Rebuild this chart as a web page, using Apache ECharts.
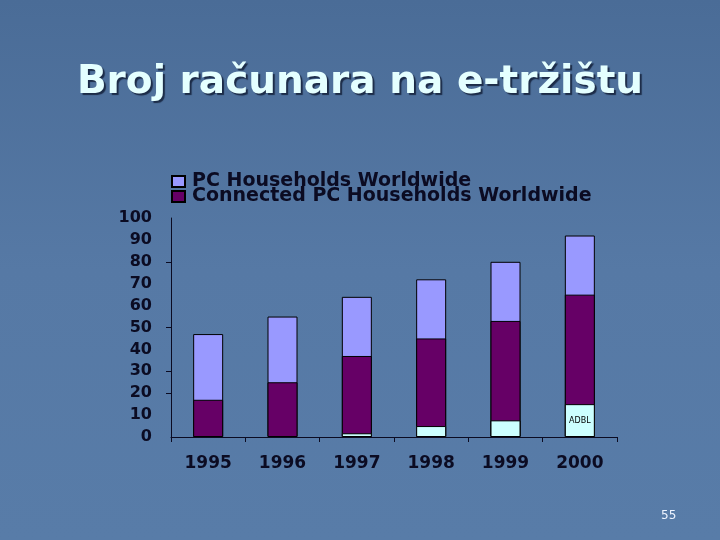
<!DOCTYPE html>
<html>
<head>
<meta charset="utf-8">
<script src="https://cdn.jsdelivr.net/npm/echarts@6/dist/echarts.min.js"></script>
<style>
  html, body { margin: 0; padding: 0; }
  #main { width: 720px; height: 540px; }
</style>
</head>
<body>
<div id="main"></div>
<script>
// godine
var years = ['1995', '1996', '1997', '1998', '1999', '2000'];
// PC households worldwide (miliona)
var pcHouseholds = [47, 55, 64, 72, 80, 92];
// connected PC households
var connectedPc = [17, 25, 37, 45, 53, 65];
// ADBL dio
var adbl = [0, 0, 1.7, 5, 7.6, 15];
var adblLabels = ['', '', '', '', '', 'ADBL'];
var yTicks = [20, 30, 50, 80];

var chart = echarts.init(document.getElementById('main'));

var labelFont = {
  color: '#0b0b22',
  fontFamily: 'DejaVu Sans',
  fontWeight: 'bold'
};

var option = {
  backgroundColor: {
    type: 'linear', x: 0, y: 0, x2: 0, y2: 1,
    colorStops: [
      { offset: 0, color: '#4a6c97' },
      { offset: 0.5, color: '#5679a5' },
      { offset: 1, color: '#587ca8' }
    ]
  },
  title: {
    text: 'Broj računara na e-tržištu',
    left: 'center',
    top: 58,
    textStyle: {
      color: '#e4ffff',
      fontFamily: 'DejaVu Sans',
      fontWeight: 'bold',
      fontSize: 39,
      textShadowColor: '#1c2c48',
      textShadowOffsetX: 2,
      textShadowOffsetY: 2,
      textShadowBlur: 1
    }
  },
  legend: {
    data: ['PC Households Worldwide', 'Connected PC Households Worldwide'],
    orient: 'vertical',
    left: 171,
    top: 172,
    itemWidth: 13,
    itemHeight: 11,
    itemGap: -4,
    padding: 0,
    icon: 'rect',
    textStyle: {
      color: '#0b0b22',
      fontFamily: 'DejaVu Sans',
      fontWeight: 'bold',
      fontSize: 19,
      lineHeight: 16,
      padding: [0, 0, 0, 2]
    }
  },
  grid: {
    left: 171,
    right: 103,
    top: 218,
    bottom: 103,
    containLabel: false
  },
  xAxis: {
    type: 'category',
    data: years,
    axisLine: { lineStyle: { color: '#0b0b22', width: 1 } },
    axisTick: { show: true, length: 5, lineStyle: { color: '#0b0b22' } },
    axisLabel: Object.assign({ fontSize: 17, margin: 18 }, labelFont)
  },
  yAxis: {
    type: 'value',
    min: 0,
    max: 100,
    interval: 10,
    splitLine: { show: false },
    axisLine: { show: true, lineStyle: { color: '#0b0b22', width: 1 } },
    axisTick: { show: true, length: 5, customValues: yTicks, lineStyle: { color: '#0b0b22' } },
    axisLabel: Object.assign({ fontSize: 16, margin: 19 }, labelFont)
  },
  series: [{
    name: 'PC Households Worldwide',
    type: 'bar',
    data: pcHouseholds,
    barWidth: 30,
    barGap: '-100%',
    z: 2,
    itemStyle: { color: '#9999ff', borderColor: '#000', borderWidth: 1 }
  }, {
    name: 'Connected PC Households Worldwide',
    type: 'bar',
    data: connectedPc,
    barWidth: 30,
    barGap: '-100%',
    z: 3,
    itemStyle: { color: '#660066', borderColor: '#000', borderWidth: 1 }
  }, {
    name: 'ADBL',
    type: 'bar',
    // nula = nema stupca
    data: adbl.map(function (v) { return v || '-'; }),
    barWidth: 30,
    barGap: '-100%',
    z: 4,
    itemStyle: { color: '#ccffff', borderColor: '#000', borderWidth: 1 },
    label: {
      show: true,
      position: 'inside',
      color: '#000',
      fontFamily: 'DejaVu Sans',
      fontSize: 8,
      formatter: function (p) {
        return adblLabels[p.dataIndex];
      }
    }
  }],
  graphic: [{
    type: 'text',
    left: 661,
    top: 510,
    style: {
      text: '55',
      fill: '#eef4ff',
      fontFamily: 'DejaVu Sans',
      fontSize: 12
    }
  }]
};

chart.setOption(option);
</script>
</body>
</html>
